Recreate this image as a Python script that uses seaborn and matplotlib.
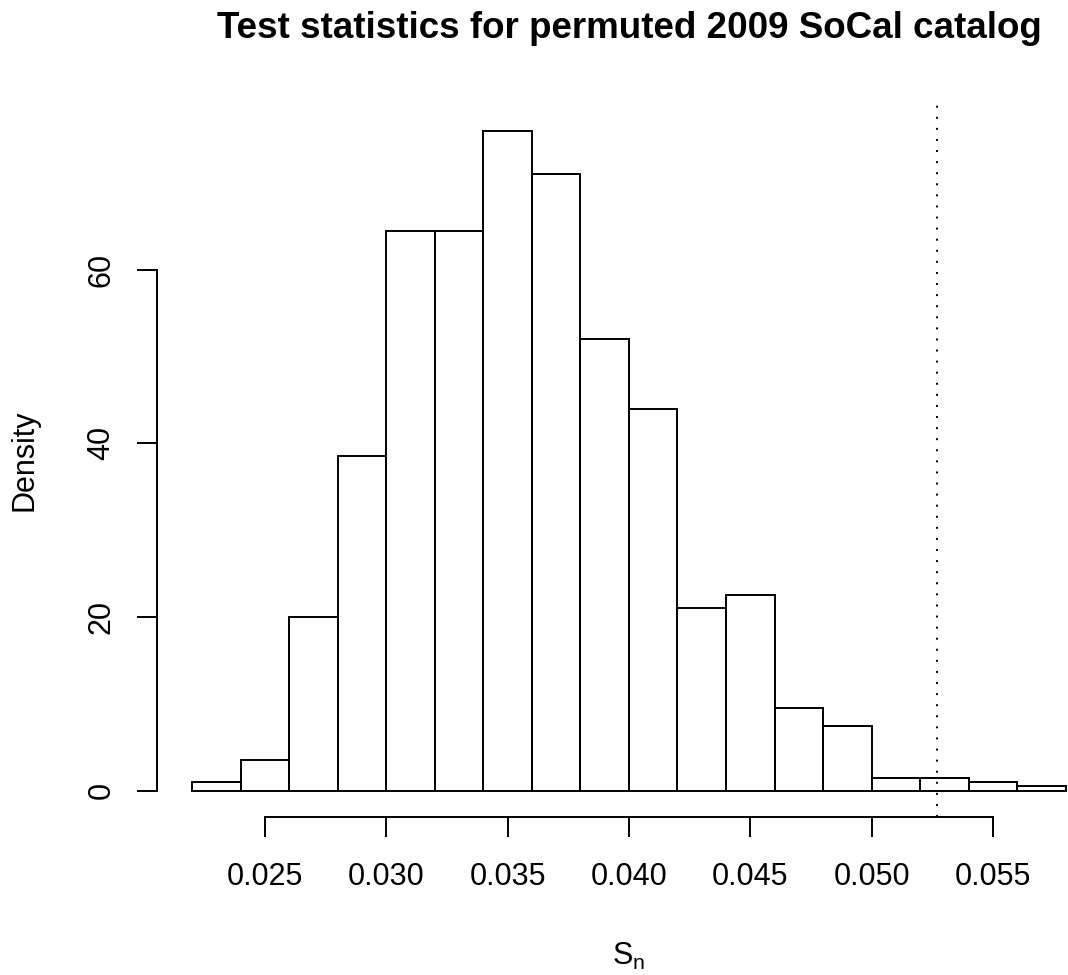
import matplotlib
matplotlib.use("Agg")
import matplotlib.pyplot as plt
import pandas as pd
import seaborn as sns

# Permutation test statistics, 1000 permutations binned at width 0.002
bin_edges = [0.022, 0.024, 0.026, 0.028, 0.030, 0.032, 0.034, 0.036, 0.038,
             0.040, 0.042, 0.044, 0.046, 0.048, 0.050, 0.052, 0.054, 0.056, 0.058]
bin_counts = [2, 7, 40, 77, 129, 129, 152, 142, 104, 88, 42, 45, 19, 15, 3, 3, 2, 1]
observed_sn = 0.0527

x_ticks = [0.025, 0.030, 0.035, 0.040, 0.045, 0.050, 0.055]
x_tick_labels = ["0.025", "0.030", "0.035", "0.040", "0.045", "0.050", "0.055"]
y_ticks = [0, 20, 40, 60]
y_tick_labels = ["0", "20", "40", "60"]

title = "Test statistics for permuted 2009 SoCal catalog"
x_label = r"$\mathrm{S}_\mathrm{n}$"
y_label = "Density"

sns.set_theme(style="white")
plt.rcParams["font.family"] = ["Liberation Sans", "DejaVu Sans"]
plt.rcParams["mathtext.fontset"] = "custom"
plt.rcParams["mathtext.rm"] = "Liberation Sans"
plt.rcParams["mathtext.it"] = "Liberation Sans:italic"

W, H = 1068, 975
LW = 1.4
FS = 22
fig = plt.figure(figsize=(W / 100, H / 100), dpi=100, facecolor="white")

# plot region in pixels (left, right, top, bottom)
pl, pr, pt, pb = 157.2, 1100.7, 104.3, 817.1
ax = fig.add_axes([pl / W, 1 - pb / H, (pr - pl) / W, (pb - pt) / H])
ax.set_facecolor("white")

centers = [(a + b) / 2 for a, b in zip(bin_edges[:-1], bin_edges[1:])]
df = pd.DataFrame({"sn": centers, "count": bin_counts})
sns.histplot(data=df, x="sn", weights="count", bins=bin_edges, stat="density",
             fill=False, color="black", linewidth=LW, ax=ax)

ax.axvline(observed_sn, color="black", linewidth=LW, linestyle=(0, (1, 4.7)))

ax.set_xlim(0.02056, 0.05944)
ax.set_ylim(-3.04, 79.04)

for side in ["top", "right"]:
    ax.spines[side].set_visible(False)
ax.spines["left"].set_bounds(0, 60)
ax.spines["bottom"].set_bounds(0.025, 0.055)
for side in ["left", "bottom"]:
    ax.spines[side].set_linewidth(LW)
    ax.spines[side].set_color("black")

ax.set_xticks(x_ticks, labels=x_tick_labels)
ax.set_yticks(y_ticks)
ax.set_yticklabels(y_tick_labels, rotation=90, va="center")
ax.tick_params(axis="both", direction="out", length=14.4, width=LW,
               color="black", labelsize=FS, labelcolor="black")
ax.tick_params(axis="x", pad=18, bottom=True)
ax.tick_params(axis="y", pad=14.8, left=True)
ax.set_xlabel("")
ax.set_ylabel("")

fig.text(629 / W, 1 - 38 / H, title, ha="center", va="baseline",
         fontsize=26.5, fontweight="bold", color="black")
fig.text(629 / W, 1 - 965 / H, x_label, ha="center", va="baseline",
         fontsize=FS, color="black")
fig.text(32 / W, 1 - 460.7 / H, y_label, rotation=90, rotation_mode="anchor",
         ha="center", va="baseline", fontsize=FS, color="black")

fig.savefig("out.png", dpi=100, facecolor="white")
